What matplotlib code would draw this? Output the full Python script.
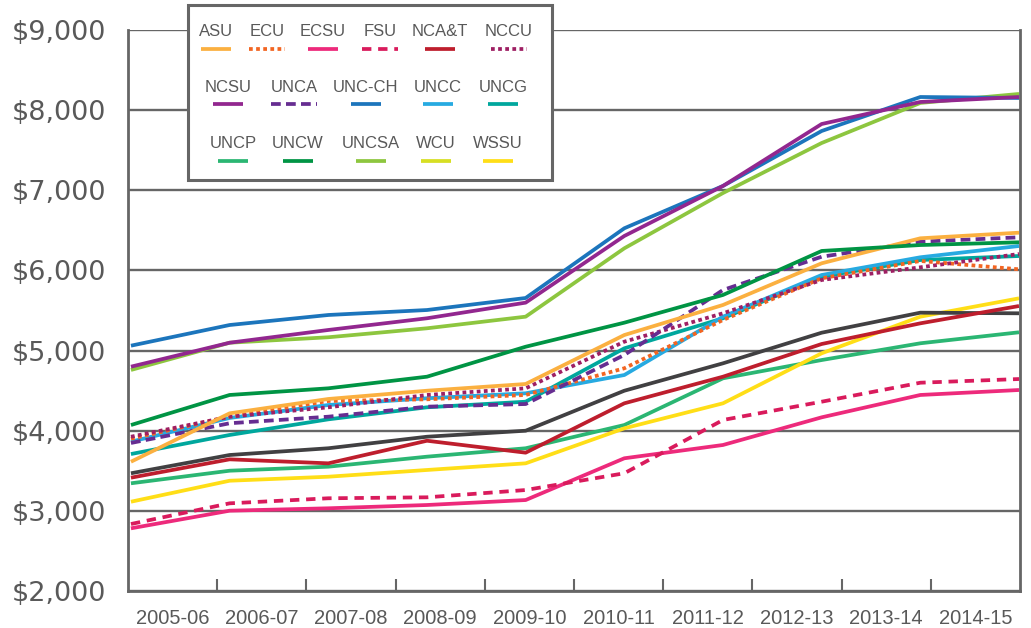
import matplotlib
matplotlib.use("Agg")
import matplotlib.pyplot as plt
from matplotlib.patches import Rectangle
from matplotlib.lines import Line2D
from matplotlib.ticker import FuncFormatter

# Data
years = ["2005-06", "2006-07", "2007-08", "2008-09", "2009-10",
         "2010-11", "2011-12", "2012-13", "2013-14", "2014-15"]

asu = [3613, 4217, 4396, 4499, 4583, 5194, 5569, 6089, 6401, 6471]
ecu = [3900, 4175, 4371, 4392, 4446, 4779, 5382, 5902, 6118, 6014]
ecsu = [2782, 3002, 3032, 3073, 3135, 3656, 3822, 4167, 4446, 4508]
fsu = [2836, 3094, 3157, 3169, 3260, 3469, 4134, 4362, 4599, 4645]
ncat = [3414, 3643, 3593, 3875, 3726, 4342, 4674, 5082, 5340, 5556]
nccu = [3925, 4175, 4292, 4446, 4529, 5111, 5465, 5881, 6039, 6205]
ncsu = [4799, 5098, 5257, 5403, 5598, 6430, 7054, 7827, 8102, 8164]
unca = [3847, 4093, 4175, 4300, 4333, 4945, 5756, 6171, 6359, 6413]
uncch = [5061, 5319, 5444, 5506, 5656, 6526, 7054, 7740, 8164, 8152]
uncc = [3863, 4159, 4321, 4405, 4467, 4695, 5423, 5943, 6164, 6305]
uncg = [3709, 3947, 4142, 4292, 4362, 5028, 5403, 5922, 6130, 6180]
uncp = [3344, 3501, 3551, 3676, 3781, 4071, 4654, 4882, 5091, 5228]
uncw = [4071, 4446, 4529, 4674, 5048, 5348, 5694, 6243, 6317, 6351]
uncsa = [4758, 5098, 5166, 5278, 5423, 6276, 6966, 7590, 8090, 8202]
wcu = [3469, 3697, 3781, 3925, 4000, 4499, 4841, 5223, 5473, 5465]
wssu = [3114, 3376, 3426, 3510, 3593, 4030, 4342, 4966, 5423, 5652]

series = {
    "ASU": asu, "ECU": ecu, "ECSU": ecsu, "FSU": fsu, "NCA&T": ncat,
    "NCCU": nccu, "NCSU": ncsu, "UNCA": unca, "UNC-CH": uncch,
    "UNCC": uncc, "UNCG": uncg, "UNCP": uncp, "UNCW": uncw,
    "UNCSA": uncsa, "WCU": wcu, "WSSU": wssu,
}

colors = {
    "ASU": "#fbb040", "ECU": "#f26522", "ECSU": "#ed2a7b", "FSU": "#d91b5c",
    "NCA&T": "#be1e2d", "NCCU": "#9e1f63", "NCSU": "#92278f",
    "UNCA": "#662d91", "UNC-CH": "#1c75bc", "UNCC": "#27aae1",
    "UNCG": "#00a79d", "UNCP": "#2bb673", "UNCW": "#009444",
    "UNCSA": "#8dc63f", "WCU": "#d7df23", "WSSU": "#ffde17",
}
# WCU is drawn dark grey in the chart, lime in the key
line_colors = dict(colors, WCU="#414042")

styles = {"ECU": (0, (1, 0.9)), "NCCU": (0, (1, 0.9)),
          "FSU": (0, (2.5, 1.8)), "UNCA": (0, (2.6, 1.4))}

GREY = "#666666"
TXT = "#595959"
LW = 2.7
NARROW = "Liberation Sans"

fig = plt.figure(figsize=(10.31, 6.28), dpi=100)
ax = fig.add_axes([128 / 1031, 1 - 591 / 628, 892 / 1031, 561 / 628])

x = list(range(len(years)))
order = ["UNCP", "WSSU", "WCU", "NCA&T", "ECSU", "FSU", "UNCG", "UNCC",
         "ECU", "NCCU", "UNCA", "ASU", "UNCW", "UNCSA", "UNC-CH", "NCSU"]
for name in order:
    ax.plot(x, series[name], color=line_colors[name], lw=LW,
            linestyle=styles.get(name, "-"), solid_capstyle="butt",
            dash_capstyle="butt")

x0, x1 = -0.03, 9.01
ax.set_xlim(x0, x1)
ax.set_ylim(2000, 9000)
band = (x1 - x0) / len(years)
ax.set_xticks([x0 + (i + 0.5) * band for i in range(len(years))])
ax.set_xticklabels(years)
ax.set_xticks([x0 + i * band for i in range(1, len(years))], minor=True)
ax.tick_params(axis="x", which="major", length=0, pad=13,
               labelsize=14.5, labelcolor=TXT)
ax.tick_params(axis="x", which="minor", direction="in", length=9,
               width=1.5, color=GREY)
for lab in ax.get_xticklabels():
    lab.set_family(NARROW)

ax.set_yticks(range(2000, 9001, 1000))
ax.yaxis.set_major_formatter(FuncFormatter(lambda v, p: f"${v:,.0f}"))
ax.tick_params(axis="y", length=0, pad=16, labelsize=19.5, labelcolor=TXT)
ax.grid(axis="y", color=GREY, lw=1.7)
ax.set_axisbelow(True)

ax.spines["top"].set_visible(False)
for s in ["left", "bottom", "right"]:
    ax.spines[s].set_color(GREY)
    ax.spines[s].set_linewidth(2)

# Key box, laid out like the original (label above a short line sample)
W, H = 1031, 628
fig.add_artist(Rectangle((188 / W, 1 - 180 / H), 364 / W, 175 / H,
                         transform=fig.transFigure, facecolor="white",
                         edgecolor=GREY, lw=2.2, zorder=5))
rows = [
    (32, 49, [("ASU", 216), ("ECU", 267), ("ECSU", 323), ("FSU", 380),
              ("NCA&T", 440), ("NCCU", 509)]),
    (88, 104, [("NCSU", 228), ("UNCA", 294), ("UNC-CH", 366),
               ("UNCC", 438), ("UNCG", 503)]),
    (144, 161, [("UNCP", 233), ("UNCW", 298), ("UNCSA", 371),
                ("WCU", 436), ("WSSU", 498)]),
]
half = {"ECU": 18, "NCCU": 18, "FSU": 18, "UNCA": 23}
for ty, ly, entries in rows:
    for name, cx in entries:
        fig.text(cx / W, 1 - ty / H, name, ha="center", va="center",
                 fontsize=12, color=TXT, zorder=6, family=NARROW)
        h = half.get(name, 15)
        fig.add_artist(Line2D([(cx - h) / W, (cx + h) / W],
                              [1 - ly / H, 1 - ly / H],
                              transform=fig.transFigure, lw=LW,
                              color=colors[name],
                              linestyle=styles.get(name, "-"),
                              solid_capstyle="butt", dash_capstyle="butt",
                              zorder=6))

fig.savefig("out.png", dpi=100)
